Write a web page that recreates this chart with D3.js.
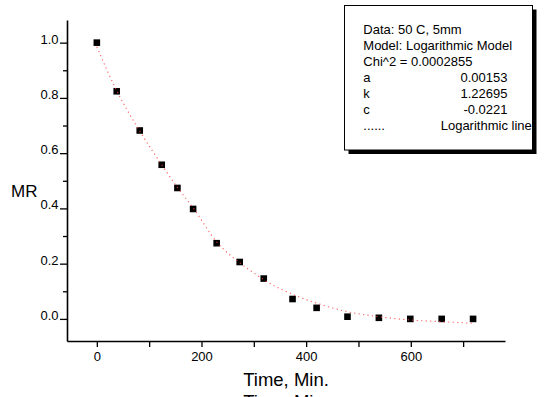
<!DOCTYPE html>
<html>
<head>
<meta charset="utf-8">
<script src="https://cdn.jsdelivr.net/npm/d3@7"></script>
<style>
  html, body { margin: 0; padding: 0; background: #fff; overflow: hidden; }
  svg { display: block; font-family: "Liberation Sans", Arial, sans-serif; }
</style>
</head>
<body>
<svg id="chart" width="550" height="397"></svg>
<script>
// ---- data ----
const times = [0, 38, 82, 124, 154, 184, 229, 273, 319, 374, 420, 479, 539, 599, 659, 719];
const mrValues = [1.0, 0.824, 0.682, 0.558, 0.474, 0.398, 0.274, 0.206, 0.146, 0.072, 0.040, 0.008, 0.004, 0.0, 0.0, 0.0];

const fitTimes = [0, 38, 82, 124, 154, 184, 229, 273, 292, 319, 374, 420, 479, 539, 599, 659, 719];
const fitValues = [0.985, 0.826, 0.68, 0.558, 0.476, 0.402, 0.279, 0.203, 0.177, 0.142, 0.089, 0.057, 0.026, 0.008, -0.004, -0.010, -0.016];

const xMajorTicks = [0, 200, 400, 600];
const xMinorTicks = [100, 300, 500, 700];
const yMajorTicks = [0.0, 0.2, 0.4, 0.6, 0.8, 1.0];
const yMinorTicks = [0.1, 0.3, 0.5, 0.7, 0.9];

const legendLeft = ["Data: 50 C, 5mm", "Model: Logarithmic Model", "Chi^2 = 0.0002855", "a", "k", "c", "......"];
const legendRight = ["", "", "", "0.00153", "1.22695", "-0.0221", ""];
const legendLineLabel = "Logarithmic line";

const xTitle = "Time, Min.";
const yTitle = "MR";

// ---- drawing ----
const svg = d3.select("#chart");
const x = d3.scaleLinear().domain([-57, 780]).range([67, 505]);
const y = d3.scaleLinear().domain([-0.08, 1.082]).range([341, 20]);

// axes
const yAxisMajor = d3.axisLeft(y).tickValues(yMajorTicks).tickSize(7).tickSizeOuter(0)
  .tickFormat(d3.format(".1f"));
const gy = svg.append("g").attr("transform", "translate(67,0)").call(yAxisMajor);
gy.selectAll("text").attr("x", -8.5).attr("dy", "0").attr("y", 0.5)
  .style("font-size", "13px").style("font-family", "Liberation Sans, Arial, sans-serif").attr("fill", "#000");
const gyMinor = svg.append("g").attr("transform", "translate(67,0)")
  .call(d3.axisLeft(y).tickValues(yMinorTicks).tickSize(4).tickSizeOuter(0).tickFormat(""));
gyMinor.select(".domain").remove();

const xAxisMajor = d3.axisBottom(x).tickValues(xMajorTicks).tickSize(6).tickSizeOuter(0)
  .tickFormat(d3.format("d"));
const gx = svg.append("g").attr("transform", "translate(0,341)").call(xAxisMajor);
gx.selectAll("text").attr("y", 20).attr("dy", "0")
  .style("font-size", "13px").style("font-family", "Liberation Sans, Arial, sans-serif").attr("fill", "#000");
const gxMinor = svg.append("g").attr("transform", "translate(0,341)")
  .call(d3.axisBottom(x).tickValues(xMinorTicks).tickSize(6).tickSizeOuter(0).tickFormat(""));
gxMinor.select(".domain").remove();

svg.selectAll(".domain").attr("stroke", "#000").attr("stroke-width", 1.6);
svg.selectAll(".tick line").attr("stroke", "#000").attr("stroke-width", 1.3);

// data points
const pts = times.map((t, i) => ({ t, v: mrValues[i] }));
const sq = 6.6;
svg.append("g").selectAll("rect").data(pts).join("rect")
  .attr("x", d => x(d.t) - sq / 2)
  .attr("y", d => y(d.v) - sq / 2)
  .attr("width", sq).attr("height", sq)
  .attr("fill", "#000");

// fitted curve (dotted red)
const fit = fitTimes.map((t, i) => ({ t, v: fitValues[i] }));
const line = d3.line().x(d => x(d.t)).y(d => y(d.v)).curve(d3.curveMonotoneX);
svg.append("path").datum(fit)
  .attr("d", line)
  .attr("fill", "none")
  .attr("stroke", "#ff4040")
  .attr("stroke-opacity", 0.85)
  .attr("stroke-width", 1.1)
  .attr("stroke-dasharray", "1.2,3.3");

// axis titles
svg.append("text").attr("x", 11).attr("y", 197).text(yTitle)
  .style("font-size", "17px").attr("fill", "#000");
svg.append("text").attr("x", 286).attr("y", 386).attr("text-anchor", "middle").text(xTitle)
  .style("font-size", "18.5px").attr("fill", "#000");
// clipped duplicate at the bottom edge
svg.append("text").attr("x", 286).attr("y", 408).attr("text-anchor", "middle").text(xTitle)
  .style("font-size", "18.5px").attr("fill", "#000");

// legend box with shadow
const lg = svg.append("g");
lg.append("rect").attr("x", 348.5).attr("y", 9.5).attr("width", 188).attr("height", 144.5).attr("fill", "#000");
lg.append("rect").attr("x", 344.5).attr("y", 5.5).attr("width", 188).attr("height", 144.5)
  .attr("fill", "#fff").attr("stroke", "#000").attr("stroke-width", 1);
const baseY = 33.5, step = 16.1;
legendLeft.forEach((s, i) => {
  lg.append("text").attr("x", 363.3).attr("y", baseY + i * step).text(s)
    .style("font-size", "13px").attr("fill", "#000");
});
legendRight.forEach((s, i) => {
  if (!s) return;
  lg.append("text").attr("x", 507.5).attr("y", baseY + i * step).attr("text-anchor", "end").text(s)
    .style("font-size", "13px").attr("fill", "#000");
});
lg.append("text").attr("x", 440.7).attr("y", baseY + 6 * step).text(legendLineLabel)
  .style("font-size", "13px").attr("fill", "#000");
</script>
</body>
</html>
